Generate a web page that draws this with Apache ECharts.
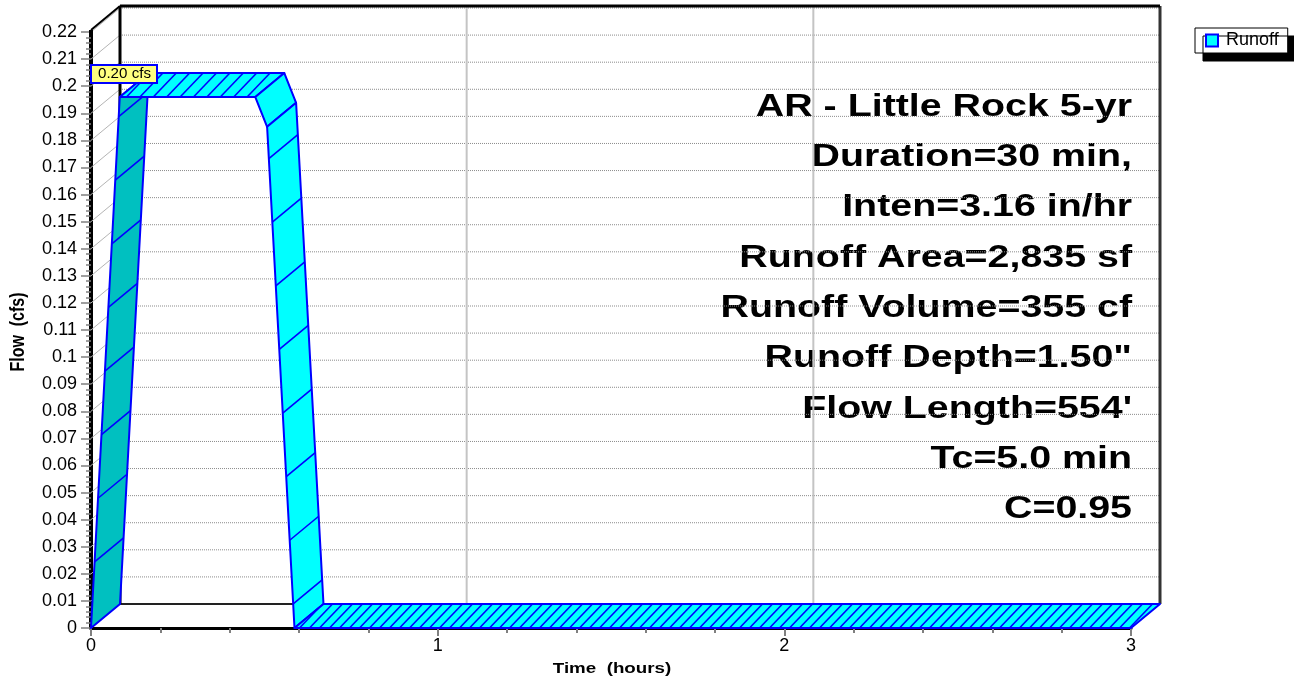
<!DOCTYPE html>
<html>
<head>
<meta charset="utf-8">
<script src="https://cdn.jsdelivr.net/npm/echarts@6/dist/echarts.min.js"></script>
<style>
  html, body { margin: 0; padding: 0; background: #ffffff; }
  #chart { width: 1294px; height: 686px; }
</style>
</head>
<body>
<div id="chart"></div>
<script>
// ---- data -------------------------------------------------------------
// Runoff hydrograph vertices: time (hours) and flow (cfs)
const timeHours = [0, 0.083, 0.474, 0.508, 0.587, 3.0];
const flowCfs   = [0, 0.196, 0.196, 0.185, 0, 0];

const seriesName = 'Runoff';
const xRange = [0, 3];
const yRange = [0, 0.22];
const xStep = 1;
const yStep = 0.01;
const xTitle = 'Time  (hours)';
const yTitle = 'Flow  (cfs)';
const flowUnit = 'cfs';

const infoLines = [
  'AR - Little Rock 5-yr',
  'Duration=30 min,',
  'Inten=3.16 in/hr',
  'Runoff Area=2,835 sf',
  'Runoff Volume=355 cf',
  'Runoff Depth=1.50"',
  "Flow Length=554'",
  'Tc=5.0 min',
  'C=0.95'
];

// ---- look -------------------------------------------------------------
const FONT = '"Liberation Sans", Arial, Helvetica, sans-serif';
const DX = 29, DY = -24;            // depth of the pseudo-3D box in pixels
const CYAN = '#00ffff', TEAL = '#00c0c0', EDGE = '#0000ff';

// consecutive vertices form the faces of the extruded ribbon
const segments = [];
for (let i = 0; i < timeHours.length - 1; i++) {
  segments.push([timeHours[i], flowCfs[i], timeHours[i + 1], flowCfs[i + 1]]);
}
const peak = Math.max(...flowCfs);

const back = p => [p[0] + DX, p[1] + DY];
const seg = (a, b, style) => ({ type: 'line', shape: { x1: a[0], y1: a[1], x2: b[0], y2: b[1] }, style });

// back wall, side wall, gridlines and frame of the box
function renderWalls(params, api) {
  const kids = [];
  const n = Math.round((yRange[1] - yRange[0]) / yStep);
  const o = api.coord([xRange[0], yRange[0]]);
  const tl = api.coord([xRange[0], yRange[1]]);
  const br = api.coord([xRange[1], yRange[0]]);
  const top = tl[1] - 2;
  for (let k = 0; k <= n; k++) {
    const v = yRange[0] + k * yStep;
    const f = api.coord([xRange[0], v]);
    const g = api.coord([xRange[1], v]);
    if (k > 0) kids.push(seg(back(f), back(g), { stroke: '#8c8c8c', lineWidth: 1, lineDash: [1, 1] }));
    kids.push(seg(f, back(f), { stroke: '#b4b4b4', lineWidth: 1 }));
  }
  for (let x = xRange[0] + xStep; x < xRange[1] - 1e-9; x += xStep) {
    const p = api.coord([x, yRange[0]]);
    kids.push(seg(back(p), back([p[0], top]), { stroke: '#c4c4c4', lineWidth: 2 }));
  }
  const bTL = back([o[0], top]), bTR = back([br[0], top]);
  const bBL = back(o), bBR = back(br);
  kids.push(seg(bBL, bBR, { stroke: '#222', lineWidth: 2 }));
  kids.push(seg(bTR, bBR, { stroke: '#333', lineWidth: 3 }));
  kids.push(seg(bTL, bTR, { stroke: '#000', lineWidth: 3 }));
  kids.push(seg(bTL, bBL, { stroke: '#000', lineWidth: 3 }));
  kids.push(seg([o[0], tl[1] + 1], [o[0], top], { stroke: '#000', lineWidth: 4 }));
  kids.push(seg([o[0], top], bTL, { stroke: '#000', lineWidth: 2 }));
  return { type: 'group', children: kids };
}

// one face of the ribbon per segment, with its hatching
function renderRunoff(params, api) {
  const f0 = api.coord([api.value(0), api.value(1)]);
  const f1 = api.coord([api.value(2), api.value(3)]);
  const b0 = back(f0), b1 = back(f1);
  const dx = f1[0] - f0[0], dy = f1[1] - f0[1];
  const L = Math.hypot(dx, dy);
  const steep = Math.abs(dy) > Math.abs(dx);
  const rising = steep && dy < 0;
  const kids = [{
    type: 'polygon',
    shape: { points: [f0, f1, b1, b0] },
    style: { fill: rising ? TEAL : CYAN, stroke: EDGE, lineWidth: 2, lineJoin: 'round' }
  }];
  const gap = steep ? 63.7 : (api.value(1) > 0 ? 13.4 : 10);
  const shift = steep ? 0 : 6;
  const F = s => [f0[0] + dx * s / L, f0[1] + dy * s / L];
  if (L > 60) {
    for (let s = rising ? gap * 1.04 : gap * 0.5; s < L + shift; s += gap) {
      let a, b;
      if (s <= L) a = F(s);
      else { const u = (s - L) / shift; a = [f1[0] + u * DX, f1[1] + u * DY]; }
      if (s >= shift) b = back(F(s - shift));
      else { const u = s / shift; b = [f0[0] + u * DX, f0[1] + u * DY]; }
      kids.push(seg(a, b, { stroke: EDGE, lineWidth: 1.6 }));
    }
  }
  return { type: 'group', children: kids };
}

// peak flow tag at the left wall
function renderPeakTag(params, api) {
  const p = api.coord([xRange[0], api.value(1)]);
  const cy = p[1] + DY + 1;
  return {
    type: 'group',
    children: [
      { type: 'rect', shape: { x: p[0], y: cy - 9, width: 66, height: 18 },
        style: { fill: '#ffff80', stroke: EDGE, lineWidth: 2 } },
      { type: 'text', x: p[0] + 7, y: cy + 0.5, scaleX: 1.08,
        style: { text: api.value(1).toFixed(2) + ' ' + flowUnit, fontSize: 14, fontFamily: FONT,
                 fill: '#000', align: 'left', verticalAlign: 'middle' } }
    ]
  };
}

const graphics = infoLines.map((t, i) => ({
  type: 'text', x: 1132, y: 107 + i * 50.3, scaleX: 1.23, silent: true,
  style: { text: t, fontSize: 32, fontWeight: 'bold', fontFamily: FONT, fill: '#000',
           align: 'right', verticalAlign: 'middle' }
}));
graphics.push({
  type: 'text', x: 612, y: 669, scaleX: 1.25, silent: true,
  style: { text: xTitle, fontSize: 15, fontWeight: 'bold', fontFamily: FONT, fill: '#000',
           align: 'center', verticalAlign: 'middle' }
});
graphics.push({
  type: 'text', x: 18, y: 332, rotation: Math.PI / 2, scaleY: 1.25, silent: true,
  style: { text: yTitle, fontSize: 16, fontWeight: 'bold', fontFamily: FONT, fill: '#000',
           align: 'center', verticalAlign: 'middle' }
});

const chart = echarts.init(document.getElementById('chart'), null, { renderer: 'canvas' });
chart.setOption({
  animation: false,
  backgroundColor: '#ffffff',
  grid: { left: 91, right: 163, top: 32, bottom: 58, containLabel: false, outerBoundsMode: 'none' },
  legend: {
    data: [{ name: seriesName, icon: 'rect',
             itemStyle: { color: CYAN, borderColor: EDGE, borderWidth: 2 } }],
    left: 1195, top: 28, orient: 'vertical',
    padding: [3, 9, 3, 10], itemWidth: 12, itemHeight: 12,
    selectedMode: false,
    backgroundColor: '#ffffff', borderColor: '#000', borderWidth: 1,
    shadowColor: '#000', shadowOffsetX: 8, shadowOffsetY: 8, shadowBlur: 0,
    textStyle: { fontSize: 18, fontFamily: FONT, color: '#000', padding: [0, 0, 0, 3], lineHeight: 19 }
  },
  xAxis: {
    type: 'value', min: xRange[0], max: xRange[1], interval: xStep,
    axisLine: { show: true, onZero: false, lineStyle: { color: '#000', width: 3 } },
    axisTick: { show: true, length: 8, lineStyle: { color: '#808080', width: 2 } },
    minorTick: { show: true, splitNumber: 5, length: 5, lineStyle: { color: '#808080', width: 2 } },
    splitLine: { show: false },
    axisLabel: { fontSize: 18, fontFamily: FONT, color: '#000', margin: 9 }
  },
  yAxis: {
    type: 'value', min: yRange[0], max: yRange[1], interval: yStep,
    axisLine: { show: true, onZero: false, lineStyle: { color: '#000', width: 4 } },
    axisTick: { show: true, length: 10, lineStyle: { color: '#808080', width: 1.5 } },
    minorTick: { show: true, splitNumber: 5, length: 5, lineStyle: { color: '#808080', width: 1.5 } },
    splitLine: { show: false },
    axisLabel: { fontSize: 18, fontFamily: FONT, color: '#000', margin: 14,
                 formatter: v => String(parseFloat(v.toFixed(2))) }
  },
  graphic: graphics,
  series: [
    { type: 'custom', name: 'walls', silent: true, clip: false, z: 1,
      renderItem: renderWalls, data: [[xRange[0], yRange[0]]] },
    { type: 'custom', name: seriesName, silent: true, clip: false, z: 3,
      itemStyle: { color: CYAN, borderColor: EDGE },
      renderItem: renderRunoff, data: segments },
    { type: 'custom', name: 'peak', silent: true, clip: false, z: 5,
      renderItem: renderPeakTag, data: [[xRange[0], peak]] }
  ]
});
</script>
</body>
</html>
